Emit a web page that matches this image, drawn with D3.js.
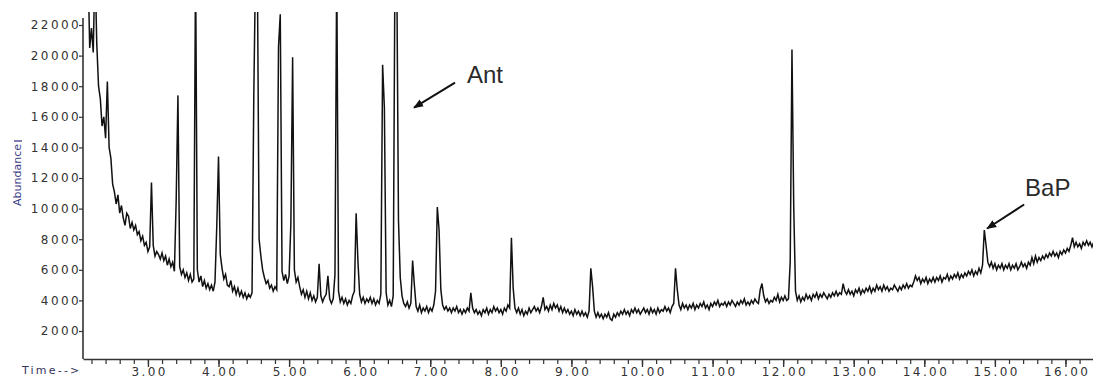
<!DOCTYPE html>
<html>
<head>
<meta charset="utf-8">
<script src="https://cdn.jsdelivr.net/npm/d3@7/dist/d3.min.js"></script>
<style>
  body { margin: 0; background: #fff; }
  svg { display: block; }
</style>
</head>
<body>
<div class="chartContainer"></div>
<script>
// first scan time and scan interval, minutes
const scanStart = 2.15;
const scanStep = 0.025;

// total ion abundance, one value per scan (0.5 min per line)
const abundance = [
  26000, 20500, 21800, 20200, 26000, 20800, 18000, 17200, 15400, 16000, 14600, 18300, 14000, 13300, 11600, 11100, 10300, 10900, 9700, 10200,
  9400, 8900, 9700, 9500, 8700, 9100, 8600, 8900, 8300, 8500, 7900, 8200, 7600, 7800, 7200, 7500, 11700, 7600, 6900, 7200,
  7000, 6700, 7100, 6600, 6900, 6300, 6700, 6200, 6500, 5900, 10500, 17400, 6200, 5700, 6000, 5500, 5800, 5300, 5700, 5200,
  5400, 26000, 6000, 5200, 5600, 4900, 5300, 4800, 5100, 4700, 5000, 4600, 5200, 8800, 13400, 7000, 6100, 5400, 5700, 5000,
  4900, 5300, 4600, 4900, 4400, 4800, 4300, 4600, 4200, 4500, 4100, 4400, 4200, 4500, 17400, 26000, 26000, 8000, 6900, 6000,
  5500, 5100, 5300, 4800, 5000, 4600, 4900, 4700, 20600, 22700, 5900, 5300, 5700, 5100, 5600, 9000, 19900, 6000, 5200, 5500,
  4900, 4400, 4700, 4200, 4600, 4100, 4500, 4000, 4300, 3900, 4200, 6400, 4300, 3900, 4200, 4400, 5600, 4100, 3800, 4100,
  5700, 26000, 4600, 3900, 4200, 3800, 4100, 3700, 4000, 3800, 4300, 4600, 9700, 6600, 4400, 3900, 4200, 3800, 4100, 3900,
  4200, 3800, 4100, 3700, 4000, 3800, 4400, 19400, 16600, 4500, 3700, 4000, 3600, 4300, 26000, 26000, 9200, 5500, 4300, 3800,
  3600, 3900, 3500, 3800, 6600, 5000, 3600, 3300, 3700, 3200, 3500, 3300, 3600, 3200, 3500, 3300, 3700, 4600, 10100, 8600,
  4700, 3700, 3400, 3600, 3300, 3500, 3200, 3500, 3300, 3600, 3200, 3400, 3100, 3400, 3200, 3500, 3300, 4500, 3500, 3200,
  3400, 3100, 3300, 3000, 3400, 3200, 3500, 3100, 3400, 3200, 3600, 3300, 3500, 3200, 3400, 3100, 3500, 3300, 3700, 3500,
  8100, 4800, 3500, 3200, 3500, 3100, 3400, 3000, 3300, 3100, 3500, 3200, 3400, 3600, 3300, 3500, 3200, 3600, 4200, 3400,
  3600, 3300, 3700, 3400, 3800, 3500, 3700, 3300, 3600, 3200, 3500, 3200, 3400, 3100, 3300, 3000, 3400, 3100, 3300, 3000,
  3300, 3000, 3200, 2900, 3300, 6100, 4900, 3300, 2900, 3200, 2900, 3100, 2800, 3100, 2900, 3200, 2800, 2700, 3100, 2900,
  3200, 3000, 3300, 3100, 3400, 3100, 3300, 3000, 3400, 3200, 3500, 3200, 3400, 3100, 3300, 3500, 3200, 3400, 3100, 3500,
  3200, 3400, 3100, 3500, 3200, 3400, 3300, 3600, 3300, 3500, 3200, 3600, 3800, 6100, 4700, 3700, 3400, 3800, 3500, 3700,
  3400, 3700, 3500, 3800, 3400, 3700, 3500, 3800, 3600, 3900, 3500, 3700, 3400, 3800, 3600, 3900, 3700, 4000, 3600, 3800,
  3700, 3900, 3600, 3900, 3700, 4000, 3800, 3600, 3900, 3700, 4000, 3800, 4100, 3700, 3900, 3700, 4000, 3800, 4100, 3900,
  3800, 4700, 5100, 4300, 3900, 4100, 3800, 4000, 3900, 4200, 4000, 4400, 3900, 4200, 4000, 4300, 4000, 4100, 6500, 20400,
  10100, 4600, 4000, 4300, 3900, 4200, 4000, 4400, 4100, 4300, 4000, 4400, 4200, 4500, 4100, 4400, 4200, 4500, 4300, 4100,
  4400, 4200, 4500, 4300, 4600, 4300, 4500, 4400, 5100, 4600, 4400, 4700, 4400, 4600, 4300, 4700, 4500, 4800, 4400, 4700,
  4500, 4800, 4600, 4900, 4500, 4800, 4600, 5000, 4700, 4900, 4600, 5000, 4700, 4900, 4600, 4800, 4700, 5000, 4800, 4600,
  4900, 4700, 5000, 4800, 5100, 4800, 5000, 4900, 5200, 5600, 5300, 5500, 5100, 5400, 5200, 5500, 5100, 5400, 5200, 5500,
  5200, 5500, 5300, 5600, 5200, 5500, 5400, 5700, 5300, 5600, 5400, 5700, 5500, 5800, 5400, 5700, 5500, 5800, 5600, 5900,
  5700, 6000, 5600, 5900, 5700, 6100, 5800, 6300, 8600, 7600, 6500, 6200, 6500, 6100, 6400, 6000, 6300, 6100, 6400, 6000,
  6300, 6100, 6400, 6000, 6300, 6100, 6400, 6000, 6200, 6500, 6200, 6400, 6100, 6500, 6300, 6800, 6400, 6900, 6500, 6800,
  6600, 6900, 6700, 7000, 6800, 7100, 6900, 7200, 6900, 7100, 6800, 7200, 7000, 7300, 7100, 7400, 7200, 7600, 8100, 7500,
  7800, 7500, 7700, 7400, 7800, 7600, 7900, 7600, 7800, 7500, 7800
];

const xTickValues = [3, 4, 5, 6, 7, 8, 9, 10, 11, 12, 13, 14, 15, 16];
const xTickLabels = ['3.00', '4.00', '5.00', '6.00', '7.00', '8.00', '9.00', '10.00', '11.00', '12.00', '13.00', '14.00', '15.00', '16.00'];
const yTickValues = [2000, 4000, 6000, 8000, 10000, 12000, 14000, 16000, 18000, 20000, 22000];

// labelled compounds and where their arrows point (time, abundance)
const peakNames = ['Ant', 'BaP'];
const peakTipTimes = [6.77, 14.89];
const peakTipValues = [16600, 8700];

const width = 1093, height = 379;
const plot = {left: 83, right: 1093.7, top: 12, bottom: 359};

const svg = d3.select('.chartContainer')
  .append('svg')
  .attr('width', width)
  .attr('height', height);

const x = d3.scaleLinear().domain([2.08, 16.4]).range([plot.left, plot.right]);
const y = d3.scaleLinear().domain([170, 22850]).range([plot.bottom, plot.top]);

svg.append('clipPath').attr('id', 'clip')
  .append('rect')
  .attr('x', plot.left).attr('y', plot.top)
  .attr('width', plot.right - plot.left).attr('height', plot.bottom - plot.top);

const line = d3.line()
  .x((d, i) => x(scanStart + i * scanStep))
  .y(d => y(d));

svg.append('path')
  .datum(abundance)
  .attr('clip-path', 'url(#clip)')
  .attr('fill', 'none')
  .attr('stroke', '#111')
  .attr('stroke-width', 1.5)
  .attr('stroke-linejoin', 'miter')
  .attr('d', line);

const tickFont = g => g.selectAll('text')
  .attr('font-family', '"DejaVu Sans", sans-serif')
  .attr('font-size', 12)
  .attr('letter-spacing', 2.4)
  .attr('fill', '#333');

// minor ticks every 0.2 min
const minor = d3.range(2.2, 16.41, 0.2);
svg.append('g')
  .attr('transform', `translate(0,${plot.bottom})`)
  .call(d3.axisBottom(x).tickValues(minor).tickSize(5).tickSizeOuter(0).tickFormat(''))
  .call(g => g.select('.domain').remove())
  .call(g => g.selectAll('line').attr('stroke', '#333').attr('stroke-width', 1.2));

svg.append('g')
  .attr('transform', `translate(0,${plot.bottom})`)
  .call(d3.axisBottom(x).tickValues(xTickValues).tickSize(8).tickSizeOuter(0)
    .tickFormat((d, i) => xTickLabels[i]))
  .call(g => g.select('.domain').attr('stroke', '#333').attr('stroke-width', 1.6))
  .call(g => g.selectAll('line').attr('stroke', '#333').attr('stroke-width', 1.4))
  .call(tickFont)
  .call(g => g.selectAll('text').attr('y', 17).attr('dy', 0).attr('dx', 1.2));

svg.append('g')
  .attr('transform', `translate(${plot.left},0)`)
  .call(d3.axisLeft(y).tickValues(yTickValues).tickSize(4).tickSizeOuter(0)
    .tickFormat(d3.format('d')).tickPadding(0))
  .call(g => g.select('.domain').attr('d', `M0,${plot.top + 6}V${plot.bottom}`)
    .attr('stroke', '#333').attr('stroke-width', 1.6))
  .call(g => g.selectAll('line').attr('stroke', '#333').attr('stroke-width', 1.2))
  .call(tickFont)
  .call(g => g.selectAll('text').attr('dx', 2));

// axis titles
svg.append('text')
  .attr('transform', 'translate(21,175) rotate(-90)')
  .attr('text-anchor', 'middle')
  .attr('font-family', '"DejaVu Sans", sans-serif')
  .attr('font-size', 11)
  .attr('fill', '#3d3d86')
  .text('Abundance');
svg.append('line')
  .attr('x1', 14).attr('x2', 22).attr('y1', 141).attr('y2', 141)
  .attr('stroke', '#3d3d86').attr('stroke-width', 1.3);

svg.append('text')
  .attr('x', 22).attr('y', 374)
  .attr('font-family', '"DejaVu Sans", sans-serif')
  .attr('font-size', 11)
  .attr('letter-spacing', 2.2)
  .attr('fill', '#34345a')
  .text('Time-->');

// peak annotations
svg.append('defs').append('marker')
  .attr('id', 'head')
  .attr('viewBox', '0 0 10 10')
  .attr('refX', 9).attr('refY', 5)
  .attr('markerWidth', 10).attr('markerHeight', 10)
  .attr('markerUnits', 'userSpaceOnUse')
  .attr('orient', 'auto')
  .append('path')
  .attr('d', 'M0,1 L10,5 L0,9 Z')
  .attr('fill', '#111');

const arrowOffsets = [[41, -25], [37, -24]];
const labelOffsets = [[53, -25], [38, -32]];

peakNames.forEach((name, i) => {
  const tx = x(peakTipTimes[i]);
  const ty = y(peakTipValues[i]);
  svg.append('line')
    .attr('x1', tx + arrowOffsets[i][0]).attr('y1', ty + arrowOffsets[i][1])
    .attr('x2', tx).attr('y2', ty)
    .attr('stroke', '#111').attr('stroke-width', 2)
    .attr('marker-end', 'url(#head)');
  svg.append('text')
    .attr('x', tx + labelOffsets[i][0]).attr('y', ty + labelOffsets[i][1])
    .attr('font-family', '"Liberation Sans", Arial, sans-serif')
    .attr('font-size', 24)
    .attr('fill', '#2a2a2a')
    .text(name);
});
</script>
</body>
</html>
